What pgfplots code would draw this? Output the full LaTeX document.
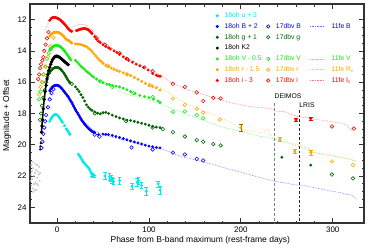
\documentclass[border=0pt]{standalone}
\usepackage{pgfplots}
\pgfplotsset{compat=1.18}
\usepackage{fontspec}
\setmainfont{Liberation Sans}
\definecolor{cu}{RGB}{0,235,235}
\definecolor{cb}{RGB}{0,0,255}
\definecolor{cg}{RGB}{0,100,0}
\definecolor{cv}{RGB}{20,235,20}
\definecolor{cr}{RGB}{255,165,0}
\definecolor{ci}{RGB}{255,0,0}
\definecolor{lb}{RGB}{110,110,255}
\definecolor{lv}{RGB}{110,245,110}
\definecolor{lr}{RGB}{255,200,110}
\definecolor{li}{RGB}{255,120,120}
\pgfplotsset{
  fdot/.style={forget plot, only marks, mark=*, mark size=1.25pt},
  odot/.style={forget plot, only marks, mark=o, mark size=1.8pt, mark options={line width=0.55pt}},
  feline/.style={forget plot, densely dotted, line width=0.6pt, no marks},
  ebar/.style={forget plot, only marks, mark=*, mark size=1.25pt, error bars/y dir=both, error bars/y explicit,
    error bars/error mark options={rotate=90, mark size=1.8pt, line width=0.5pt}, error bars/error bar style={line width=0.5pt}},
  legdot/.style={legend image code/.code={\draw[mark repeat=2, mark phase=2, ##1] plot coordinates {(-2pt,0pt) (0pt,0pt) (2pt,0pt)};}},
  legline/.style={legend image code/.code={\draw[##1] plot coordinates {(0pt,0pt) (13pt,0pt)};}},
  legnone/.style={legend image code/.code={}},
}
\newcommand{\Lone}[2]{\hspace*{6pt}\makebox[42pt][l]{\textcolor{#1}{#2}}}
\newcommand{\Ltwo}[2]{\hspace*{6pt}\makebox[34pt][l]{\textcolor{#1}{#2}}}
\newcommand{\Lthr}[2]{\hspace*{8pt}\makebox[22pt][l]{\textcolor{#1}{#2}}}
\begin{document}
\begin{tikzpicture}
\useasboundingbox (-30pt,-26pt) rectangle (344pt,223pt);
\begin{axis}[
  at={(0,0)}, anchor=south west,
  scale only axis, width=334pt, height=219pt,
  xmin=-29.5, xmax=334, ymin=11, ymax=25, y dir=reverse,
  xtick={0,100,200,300}, minor x tick num=4,
  ytick={12,14,16,18,20,22,24}, minor y tick num=3,
  tick align=inside, major tick length=5pt, minor tick length=2.5pt,
  every tick/.style={black!80, line width=0.8pt},
  axis line style={black!80, line width=1.1pt},
  tick label style={font=\fontsize{8}{9}\selectfont},
  /pgf/number format/assume math mode=true,
  xlabel={Phase from B-band maximum (rest-frame days)},
  ylabel={Magnitude + Offset},
  label style={font=\fontsize{8.5}{10}\selectfont},
  xlabel style={at={(axis description cs:0.51,-0.078)}, anchor=center},
  ylabel style={at={(axis description cs:-0.069,0.49)}, anchor=center, rotate=0},
  clip=true,
  legend columns=3,
  legend cell align=left,
  legend style={draw=none, fill=none, at={(axis cs:172.9,11.54)}, anchor=north west,
    font=\fontsize{6.8}{7.5}\selectfont, row sep=4.3pt, column sep=0pt, inner sep=0pt, outer sep=0pt,
    nodes={inner sep=0pt, text height=5pt, text depth=1.5pt}},
]
% ---- 11fe template lines ----
\addplot[feline, lb] coordinates {(-7.6,16.47) (-4,16.3) (0,16.21) (4,16.33) (8.7,16.6) (12,16.92) (16.3,17.3) (20,17.7) (25,18.19) (30,18.55) (35.9,18.89) (40,19.08) (46.7,19.27) (53,19.4) (60.9,19.53) (70,19.66) (80,19.8) (90.2,19.98) (100,20.1) (108,20.2) (115.2,20.3) (124,20.48) (133.7,20.74) (145,20.88) (155,21.05) (169.6,21.25) (178,21.4) (188,21.57) (200,21.75) (212,21.95) (225,22.15) (237,22.34) (248,22.44) (258,22.55) (268,22.6) (278.3,22.72) (290,22.86) (300,22.98) (308,23.05) (315.2,23.17) (320,23.2) (326.1,23.49)};
\addplot[feline, lv] coordinates {(-7.6,13.53) (-4,13.6) (1,13.66) (6,13.75) (10,13.9) (14,14.11) (20,14.6) (26,15.0) (30,15.2) (35.9,15.51) (42,15.78) (50,15.98) (57.6,16.15) (63,16.38) (68.5,16.6) (78,16.8) (90,17.0) (104.3,17.23) (115,17.45) (126,17.7) (141.3,18.06) (150,18.25) (160,18.45) (168,18.62) (177.2,18.83) (188,18.98) (198.9,19.15) (210,19.3) (220,19.45) (229,19.52) (237,19.66) (245,19.8) (255,19.95) (265,20.15) (278.3,20.49) (288,20.6) (298,20.7) (308,20.8) (318,20.92) (326.1,21.06)};
\addplot[feline, lr] coordinates {(-7.6,12.64) (-4,12.7) (0,12.77) (4,12.86) (8.7,13.02) (12,13.25) (16.3,13.53) (20,13.6) (25,13.6) (30,13.72) (35.9,13.91) (40,14.15) (46.7,14.55) (55,14.85) (60,15.0) (68.5,15.19) (80,15.5) (90.2,15.83) (100,16.05) (112,16.34) (125,16.8) (137,17.23) (150,17.6) (160,17.85) (170,18.08) (177.2,18.25) (188,18.55) (195,18.8) (201.1,19.02) (210,19.1) (217,19.18) (222.8,19.21) (227,19.1) (229.3,18.95) (231,19.25) (234.8,19.53) (242,19.65) (250,19.78) (255,19.85) (260.9,19.98) (265,20.0) (269.6,20.17) (273,20.2) (278.3,20.49) (285,20.52) (290,20.58) (296.7,20.62) (305,20.75) (312,20.85) (318,20.9) (326.1,21.06)};
\addplot[feline, li] coordinates {(-13,12.64) (-10,12.25) (-7.6,12.0) (-3,11.88) (0,11.87) (3,11.95) (6.5,12.13) (9,12.33) (12,12.51) (14,12.55) (16.3,12.51) (19,12.42) (22.8,12.32) (26,12.29) (30.4,12.32) (34,12.45) (38,12.64) (42,12.95) (46.7,13.28) (52,13.5) (57.6,13.72) (63,13.95) (68.5,14.17) (80,14.55) (90.2,14.87) (100,15.2) (112,15.51) (118,15.78) (126,16.08) (135,16.3) (144.6,16.53) (155,16.7) (166.3,16.91) (175,17.05) (188,17.3) (198,17.42) (209.8,17.55) (220,17.62) (228,17.65) (234.8,17.74) (240,17.9) (246,17.85) (252,17.98) (260.9,18.19) (268,18.25) (275,18.3) (282.6,18.38) (290,18.45) (297,18.5) (304.3,18.57) (310,18.62) (316,18.8) (321.7,19.15)};
% ---- grey early points ----
\addplot[forget plot, only marks, mark=x, mark size=1.1pt, gray!55, mark options={line width=0.4pt}] coordinates {(-29,22.3) (-28.5,21.9) (-28,22.6) (-27.5,21.7) (-27,22.2) (-26.5,22.8) (-26,21.5) (-25.5,22.0) (-25,22.5) (-24.5,21.2) (-24,21.8) (-23.5,22.4) (-23,21.6) (-22.5,22.9) (-22,21.3) (-21.5,22.1) (-21,21.7) (-20.5,22.6) (-20,21.9) (-19.5,21.4) (-19,22.3) (-18.5,21.8) (-28,21.3) (-26,23.0) (-24,22.9) (-27,21.1) (-22,22.5)};
% ---- 17dbv open circles ----
\addplot[odot, cb] coordinates {(-17,20.2) (-16,19.8) (-15,19.3) (-14,18.9) (-13,18.5) (-12,18.1) (-10,17.6) (-8,17.1) (-6,16.7) (-4,16.45) (41,19.35) (46,19.47) (81,20.17) (104,20.3) (126,20.5) (139,20.62) (152,20.9) (159,21.0)};
\addplot[odot, cg] coordinates {(-18.5,18.4) (-17.5,18.0) (-16.5,17.5) (-15,17.0) (-13.5,16.5) (-12,16.0) (-10.5,15.65) (-9,15.35) (16,16.1) (41,18.0) (75,18.5) (104,18.9) (115,19.0) (126,19.2) (139,19.47) (152,19.7) (159,19.8) (170,19.95) (178,20.04) (299,21.9) (322,22.15)};
\addplot[odot, cv] coordinates {(-19.6,17.1) (-18,16.6) (-16.5,16.0) (-15,15.5) (-13,15.0) (-11,14.5) (-9,14.15) (-7,13.9) (47,15.95) (60,16.3) (83,16.7) (104,16.95) (126,17.9) (139,17.87) (152,18.1) (159,18.3)};
\addplot[odot, cr] coordinates {(-19.6,16.79) (-18,16.3) (-16,16.0) (-14.5,15.5) (-12,15.0) (-9.8,14.36) (-7.6,13.72) (-4,13.15) (55,14.95) (76,15.5) (101,16.2) (126,17.05) (139,17.45) (152,17.7) (159,17.95) (177,18.4) (299,21.06) (322,21.3)};
\addplot[odot, ci] coordinates {(-20.5,15.8) (-19.5,15.5) (-18.5,15.1) (-17.5,14.85) (-16,14.6) (-15,14.4) (-14,14.0) (-12.5,13.6) (-11,13.2) (-9.5,12.8) (43,13.2) (52,13.6) (68,14.15) (76,14.5) (95,15.05) (104,15.3) (126,16.1) (139,16.3) (152,16.65) (159,17.2) (170,17.0) (178,17.04) (299,18.83) (323,18.96)};
% ---- 18oh filled ----
\addplot[fdot, cu] coordinates {(-8,18.5) (-7,18.38) (-6,18.27) (-5,18.18) (-4,18.12) (-3,18.08) (-2,18.06) (-1,18.07) (0,18.1) (1,18.15) (2,18.22) (3,18.3) (4,18.39) (5,18.48) (6,18.57) (8,18.78) (10,18.98) (11,19.07) (12,19.15) (13,19.25) (14,19.34) (23,20.6) (24,20.68) (25,20.76) (26,20.85) (27,20.95) (28,21.05) (29,21.12) (30,21.2) (31,21.27) (32,21.33) (33,21.4) (34,21.46) (35,21.55) (36,21.66) (37,21.78)};
\addplot[ebar, cu] coordinates {(38,21.9) +- (0,0.08) (39,21.98) +- (0,0.08) (40,22.0) +- (0,0.08) (52,22.0) +- (0,0.22) (57,22.05) +- (0,0.2) (58.5,22.15) +- (0,0.18) (60,22.25) +- (0,0.2) (61.5,22.35) +- (0,0.2) (68,22.3) +- (0,0.2) (81.5,22.65) +- (0,0.2) (87,22.4) +- (0,0.25) (88.5,22.3) +- (0,0.2) (92,22.6) +- (0,0.2) (97,22.97) +- (0,0.25) (110,22.5) +- (0,0.2) (112,22.9) +- (0,0.25)};
\addplot[fdot, cb] coordinates {(-8,16.55) (-7,16.45) (-6,16.37) (-5,16.3) (-4,16.25) (-3,16.22) (-2,16.2) (-1,16.19) (0,16.2) (1,16.21) (2,16.24) (3,16.28) (4,16.34) (5,16.4) (6,16.47) (7,16.55) (8,16.62) (9,16.7) (10,16.77) (11,16.85) (12,16.92) (13,17.02) (14,17.12) (15,17.22) (16,17.3) (17,17.42) (18,17.53) (19,17.65) (20,17.76) (21,17.87) (22,17.95) (23,18.05) (24,18.15) (25,18.25) (26,18.35) (27,18.45) (28,18.53) (29,18.6) (30,18.68) (31,18.75) (32,18.82) (33,18.88) (34,18.94) (35,19.0) (36,19.05) (37,19.1) (38,19.14) (39,19.17) (40,19.2) (41,19.22) (45,19.35) (50,19.32) (53,19.33) (56,19.35) (60,19.4) (64,19.47) (68,19.53) (72,19.6) (76,19.68) (80,19.75) (84,19.82) (88,19.88) (92,19.95) (96,20.02) (100,20.08) (104,20.13) (108,20.17) (112,20.2)};
\addplot[fdot, cg] coordinates {(-8,15.4) (-7,15.3) (-6,15.22) (-5,15.16) (-4,15.11) (-3,15.08) (-2,15.06) (-1,15.05) (0,15.05) (1,15.06) (2,15.09) (3,15.13) (4,15.18) (5,15.24) (6,15.31) (7,15.39) (8,15.48) (9,15.58) (10,15.68) (11,15.78) (12,15.88) (13,15.97) (14,16.05) (20,16.3) (22,16.45) (24,16.6) (26,16.8) (28,16.98) (30,17.2) (32,17.45) (34,17.6) (36,17.72) (38,17.8) (41,17.9) (44,17.98) (47,18.02) (50,17.95) (53,17.93) (56,18.0) (60,18.1) (64,18.2) (68,18.28) (72,18.35) (76,18.42) (80,18.45) (84,18.5) (88,18.56) (92,18.62) (96,18.68) (100,18.75) (104,18.82) (108,18.87) (112,18.9) (244.6,20.8) (276,21.3)};
\addplot[forget plot, black, line width=1.5pt, mark=*, mark size=0.8pt] coordinates {(-17,19.2) (-16.5,18.8) (-16,18.4) (-15,17.7) (-14,17.1) (-13,16.6) (-12,16.2) (-11,15.8) (-10,15.5) (-9,15.25) (-8,15.05) (-7,14.85) (-6,14.7) (-5,14.57) (-4,14.47) (-3,14.4) (-2,14.36) (-1,14.34) (0,14.34) (1,14.36) (2,14.38) (3,14.42) (4,14.47) (5,14.52) (6,14.57) (7,14.63) (8,14.68) (9,14.73) (10,14.78) (11,14.83) (12,14.88)};
\addplot[forget plot, only marks, mark=*, mark size=0.8pt, black] coordinates {(-18.5,20.3) (-18.2,20.1) (-17.8,19.9) (-17.5,19.6)};
\addplot[fdot, cv] coordinates {(-8,13.95) (-7,13.87) (-6,13.8) (-5,13.75) (-4,13.71) (-3,13.68) (-2,13.66) (-1,13.65) (0,13.65) (1,13.66) (2,13.68) (3,13.71) (4,13.75) (5,13.8) (6,13.86) (7,13.93) (8,14.0) (9,14.08) (10,14.16) (11,14.25) (12,14.33) (13,14.42) (14,14.5) (15,14.58) (20,14.6) (22,14.72) (24,14.85) (26,14.98) (28,15.08) (30,15.18) (32,15.3) (34,15.4) (36,15.5) (38,15.6) (40,15.68) (43,15.8) (46,15.92) (50,16.03) (54,16.12) (57,16.16) (60,16.2) (64,16.25) (68,16.3) (72,16.38) (76,16.48) (80,16.6) (85,16.72) (90,16.84) (95,16.92) (100,16.98) (105,17.08) (110,17.2) (112,17.3)};
\addplot[fdot, cr] coordinates {(-8,13.05) (-7,12.98) (-6,12.92) (-5,12.87) (-4,12.84) (-3,12.82) (-2,12.8) (-1,12.8) (0,12.8) (1,12.81) (2,12.83) (3,12.86) (4,12.9) (5,12.95) (6,13.0) (7,13.06) (8,13.13) (9,13.2) (10,13.27) (11,13.3) (12,13.33) (13,13.35) (14,13.4) (15,13.45) (16,13.5) (20,13.55) (22,13.56) (24,13.57) (26,13.6) (28,13.63) (30,13.68) (32,13.73) (34,13.82) (36,13.92) (38,14.04) (40,14.18) (42,14.32) (44,14.45) (46,14.58) (48,14.68) (50,14.8) (53,14.92) (56,15.0) (59,15.1) (62,15.18) (65,15.25) (68,15.32) (72,15.4) (76,15.48) (80,15.58) (84,15.7) (88,15.82) (92,15.95) (96,16.08) (100,16.2) (104,16.28) (108,16.36) (112,16.5)};
\addplot[ebar, cr, error bars/error bar style={cr!60!black, line width=0.6pt}] coordinates {(200,18.9) +- (0,0.22)};
\addplot[ebar, cr] coordinates {(242.4,19.66) +- (0,0.12) (258.7,20.42) +- (0,0.15) (276.1,20.49) +- (0,0.15)};
\addplot[fdot, ci] coordinates {(-8,12.05) (-7,11.97) (-6,11.9) (-5,11.87) (-4,11.86) (-3,11.85) (-2,11.86) (-1,11.88) (0,11.9) (1,11.93) (2,11.96) (3,12.0) (4,12.05) (5,12.1) (6,12.16) (7,12.22) (8,12.28) (9,12.35) (10,12.42) (11,12.5) (12,12.56) (13,12.62) (14,12.68) (15,12.72) (16,12.75) (21,12.7) (22,12.68) (23,12.66) (24,12.64) (25,12.62) (26,12.6) (27,12.59) (28,12.58) (29,12.57) (30,12.57) (31,12.58) (32,12.6) (33,12.62) (34,12.65) (35,12.7) (36,12.76) (37,12.82) (38,12.9) (41,13.08) (43,13.25) (45,13.38) (47,13.47) (50,13.6) (53,13.72) (56,13.8) (58,13.88) (62,14.0) (65,14.1) (68,14.22) (72,14.38) (75,14.5) (78,14.6) (82,14.72) (86,14.85) (90,14.95) (94,15.05) (99,15.22) (104,15.45) (108,15.55) (110,15.6) (112,15.62)};
\addplot[ebar, ci] coordinates {(260,18.4) +- (0,0.1) (276,18.33) +- (0,0.1)};
% ---- annotations ----
\draw[gray, line width=1.2pt, dash pattern=on 3pt off 2pt] (axis cs:237,17.3) -- (axis cs:237,25);
\draw[black!85, line width=0.7pt, dash pattern=on 2.5pt off 2pt] (axis cs:264,17.8) -- (axis cs:264,25);
\node[anchor=west, inner sep=0pt, font=\fontsize{6.8}{8}\selectfont] at (axis cs:236.5,16.9) {DEIMOS};
\node[anchor=west, inner sep=0pt, font=\fontsize{6.8}{8}\selectfont] at (axis cs:263.5,17.45) {LRIS};
% ---- legend ----
\addlegendimage{only marks, mark=*, mark size=1.3pt, cu, legdot}\addlegendentry{\Lone{cu}{18oh u + 3}}
\addlegendimage{legnone}\addlegendentry{\Ltwo{white}{}}
\addlegendimage{legnone}\addlegendentry{\Lthr{white}{}}
\addlegendimage{only marks, mark=*, mark size=1.3pt, cb, legdot}\addlegendentry{\Lone{cb}{18oh B + 2}}
\addlegendimage{only marks, mark=o, mark size=1.7pt, cb, line width=0.6pt, legdot}\addlegendentry{\Ltwo{cb}{17dbv B}}
\addlegendimage{densely dotted, line width=0.6pt, lb, legline}\addlegendentry{\Lthr{cb}{11fe B}}
\addlegendimage{only marks, mark=*, mark size=1.3pt, cg, legdot}\addlegendentry{\Lone{cg}{18oh g + 1}}
\addlegendimage{only marks, mark=o, mark size=1.7pt, cg, line width=0.6pt, legdot}\addlegendentry{\Ltwo{cg}{17dbv g}}
\addlegendimage{legnone}\addlegendentry{\Lthr{white}{}}
\addlegendimage{only marks, mark=*, mark size=1.3pt, black, legdot}\addlegendentry{\Lone{black}{18oh K2}}
\addlegendimage{legnone}\addlegendentry{\Ltwo{white}{}}
\addlegendimage{legnone}\addlegendentry{\Lthr{white}{}}
\addlegendimage{only marks, mark=*, mark size=1.3pt, cv, legdot}\addlegendentry{\Lone{cv}{18oh V - 0.5}}
\addlegendimage{only marks, mark=o, mark size=1.7pt, cv, line width=0.6pt, legdot}\addlegendentry{\Ltwo{cv}{17dbv V}}
\addlegendimage{densely dotted, line width=0.6pt, lv, legline}\addlegendentry{\Lthr{cv}{11fe V}}
\addlegendimage{only marks, mark=*, mark size=1.3pt, cr, legdot}\addlegendentry{\Lone{cr}{18oh r - 1.5}}
\addlegendimage{only marks, mark=o, mark size=1.7pt, cr, line width=0.6pt, legdot}\addlegendentry{\Ltwo{cr}{17dbv r}}
\addlegendimage{densely dotted, line width=0.6pt, lr, legline}\addlegendentry{\Lthr{cr}{11fe R\textsubscript{c}}}
\addlegendimage{only marks, mark=*, mark size=1.3pt, ci, legdot}\addlegendentry{\Lone{ci}{18oh i - 3}}
\addlegendimage{only marks, mark=o, mark size=1.7pt, ci, line width=0.6pt, legdot}\addlegendentry{\Ltwo{ci}{17dbv i}}
\addlegendimage{densely dotted, line width=0.6pt, li, legline}\addlegendentry{\Lthr{ci}{11fe I\textsubscript{c}}}
\end{axis}
\end{tikzpicture}
\end{document}
